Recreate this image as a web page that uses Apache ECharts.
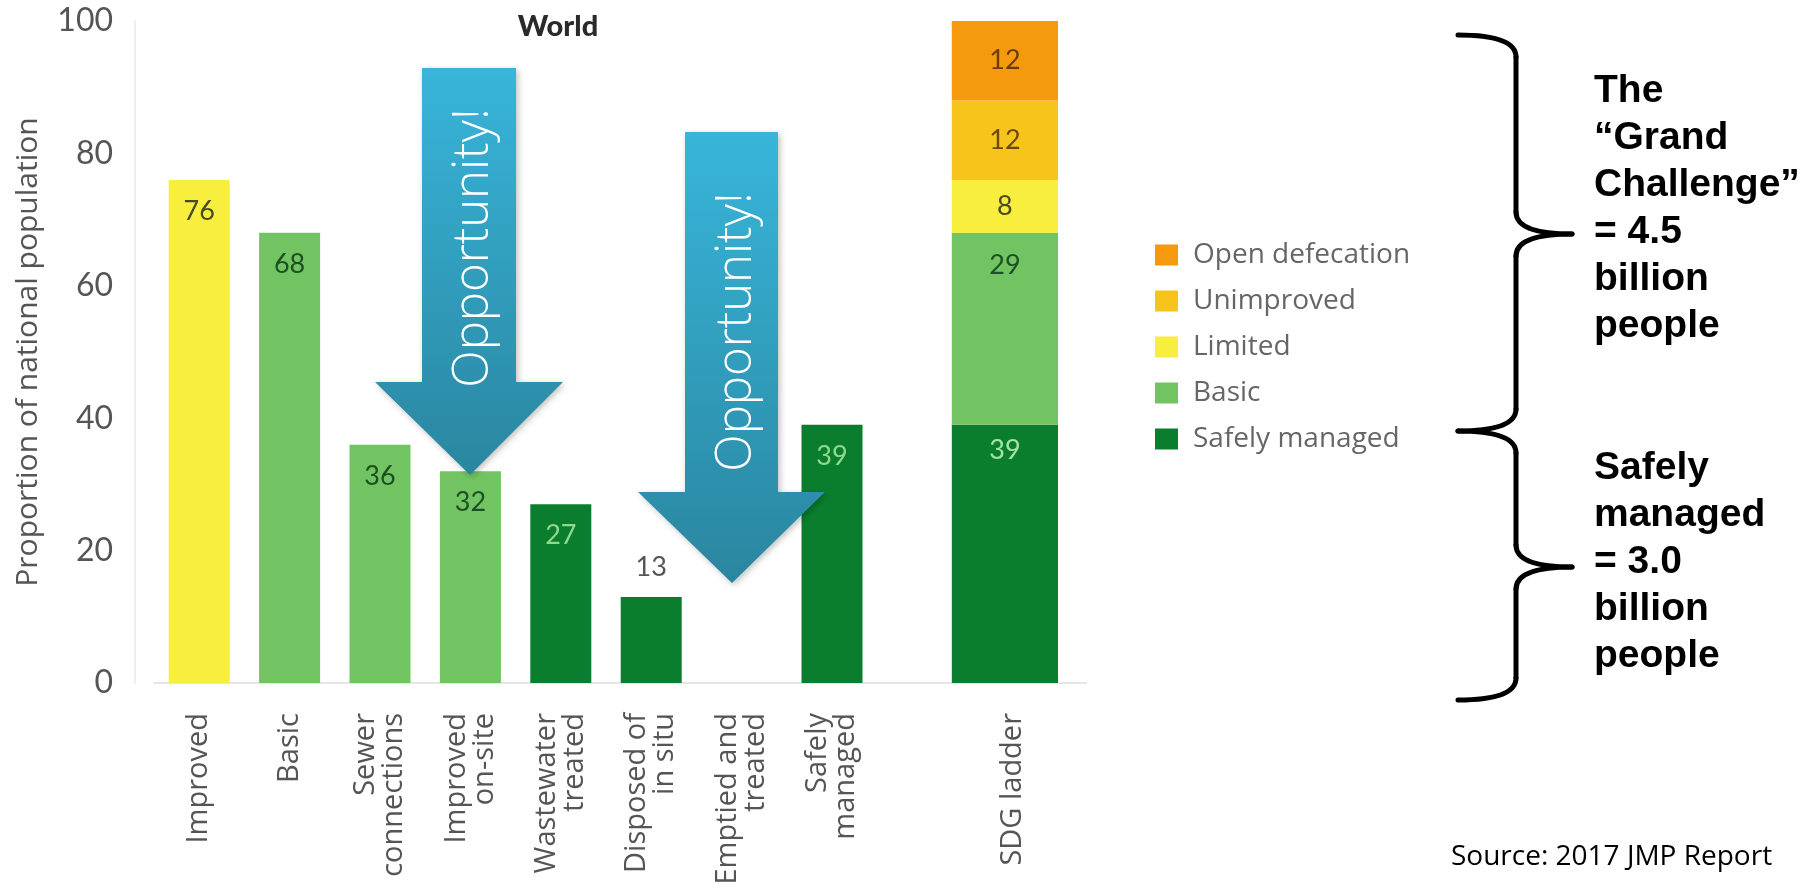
<!DOCTYPE html>
<html>
<head>
<meta charset="utf-8">
<script src="https://cdn.jsdelivr.net/npm/echarts@6/dist/echarts.min.js"></script>
<style>
html,body{margin:0;padding:0;background:#fff;}
#chart{width:1803px;height:892px;}
</style>
</head>
<body>
<div id="chart"></div>
<script>
// ---- data ----
const categories = ['Improved','Basic','Sewer\nconnections','Improved\non-site','Wastewater\ntreated','Disposed of\nin situ','Emptied and\ntreated','Safely\nmanaged','','SDG ladder'];
const serviceValues = [76, 68, 36, 32, 27, 13, null, 39, null, null];
const ladderNames = ['Safely managed','Basic','Limited','Unimproved','Open defecation'];
const ladderValues = [39, 29, 8, 12, 12];
const legendOrder = ['Open defecation','Unimproved','Limited','Basic','Safely managed'];
const yMin = 0, yMax = 100, yStep = 20;

// ---- styles ----
const C = {
  'Open defecation': '#F59A0C',
  'Unimproved': '#F7C41C',
  'Limited': '#F8EE3E',
  'Basic': '#72C462',
  'Safely managed': '#0A7E2E'
};
const barLevel = ['Limited','Basic','Basic','Basic','Safely managed','Safely managed',null,'Safely managed',null,null];
const labelColor = {
  'Open defecation': '#6a3c08',
  'Unimproved': '#6a4a0a',
  'Limited': '#4d4a22',
  'Basic': '#1d4f24',
  'Safely managed': '#8fd98c'
};

const chart = echarts.init(document.getElementById('chart'));

const mainData = serviceValues.map((v, i) => {
  if (v == null) return '-';
  const lvl = barLevel[i];
  const item = { value: v, itemStyle: { color: C[lvl] }, label: { color: labelColor[lvl] } };
  if (i === 5) item.label = { position: 'top', distance: 16, color: '#555' };
  return item;
});

const ladderLabelPos = {
  'Safely managed': ['insideTop', 12],
  'Basic': ['insideTop', 19],
  'Limited': ['inside', 0],
  'Unimproved': ['inside', 0],
  'Open defecation': ['inside', 0]
};

const ladderSeries = ladderNames.map((name, k) => ({
  name: name,
  type: 'bar',
  xAxisIndex: 1,
  stack: 'ladder',
  barWidth: 122,
  itemStyle: { color: C[name] },
  label: {
    show: true,
    position: ladderLabelPos[name][0],
    distance: ladderLabelPos[name][1],
    fontFamily: 'Lato', fontSize: 27,
    color: name === 'Safely managed' ? '#a6e3a2' : labelColor[name]
  },
  data: categories.map((c, i) => i === categories.length - 1 ? ladderValues[k] : '-')
}));

const arrowGrad = () => new echarts.graphic.LinearGradient(0, 0, 0, 1, [
  { offset: 0, color: '#38B5DA' },
  { offset: 1, color: '#2A86A0' }
]);

function arrow(sl, sr, top, headY, hl, hr, tipX, tipY) {
  return {
    type: 'polygon',
    shape: { points: [[sl, top], [sr, top], [sr, headY], [hr, headY], [tipX, tipY], [hl, headY], [sl, headY]] },
    style: { fill: arrowGrad(), shadowBlur: 6, shadowColor: 'rgba(0,0,0,0.25)', shadowOffsetX: 2, shadowOffsetY: 2 },
    z: 100
  };
}
function oppText(x, y) {
  return {
    type: 'text', x: x, y: y, rotation: Math.PI / 2, z: 101,
    style: { text: 'Opportunity!', fill: '#fff', font: '300 49px "Open Sans"', align: 'center', verticalAlign: 'middle' }
  };
}
function brace(xe, xs, xt, y1, ym, y2, r) {
  const st = { stroke: '#000', lineWidth: 5, fill: null, lineCap: 'round' };
  return [
    { type: 'bezierCurve', shape: { x1: xe, y1: y1, x2: xs, y2: y1 + r, cpx1: xs, cpy1: y1 }, style: st },
    { type: 'line', shape: { x1: xs, y1: y1 + r, x2: xs, y2: ym - r }, style: st },
    { type: 'bezierCurve', shape: { x1: xs, y1: ym - r, x2: xt, y2: ym, cpx1: xs, cpy1: ym }, style: st },
    { type: 'bezierCurve', shape: { x1: xt, y1: ym, x2: xs, y2: ym + r, cpx1: xs, cpy1: ym }, style: st },
    { type: 'line', shape: { x1: xs, y1: ym + r, x2: xs, y2: y2 - r }, style: st },
    { type: 'bezierCurve', shape: { x1: xs, y1: y2 - r, x2: xe, y2: y2, cpx1: xs, cpy1: y2 }, style: st }
  ];
}

const option = {
  backgroundColor: '#fff',
  animation: false,
  title: {
    text: 'World', left: 553, top: 7, textAlign: 'center',
    textStyle: { fontFamily: 'Lato', fontWeight: 900, fontSize: 29, color: '#2a2a2a' }
  },
  legend: {
    data: legendOrder,
    orient: 'vertical',
    left: 1150, top: 236,
    icon: 'rect', itemWidth: 23, itemHeight: 21, itemGap: 18,
    textStyle: { fontFamily: 'Open Sans', fontSize: 28, lineHeight: 28, color: '#666', padding: [0, 0, 0, 10] }
  },
  grid: { left: 154, right: 745, top: 21, bottom: 209 },
  xAxis: [
    {
      type: 'category', data: categories,
      axisLine: { lineStyle: { color: '#e6e6e6', width: 2 } },
      axisTick: { show: false },
      axisLabel: { interval: 0, rotate: 90, margin: 30, fontFamily: 'Open Sans', fontSize: 29, lineHeight: 28, color: '#555' }
    },
    { type: 'category', data: categories, show: false }
  ],
  yAxis: {
    type: 'value', min: yMin, max: yMax, interval: yStep, offset: 19,
    name: 'Proportion of national population', nameLocation: 'middle', nameGap: 92,
    nameTextStyle: { fontFamily: 'Open Sans', fontSize: 30, color: '#555' },
    axisLine: { show: true, lineStyle: { color: '#eeeeee', width: 2 } },
    axisTick: { show: false },
    splitLine: { show: false },
    axisLabel: { margin: 22, fontFamily: 'Lato', fontSize: 32, color: '#555' }
  },
  series: [
    {
      name: 'Services', type: 'bar', xAxisIndex: 0, barWidth: 61,
      label: { show: true, position: 'insideTop', distance: 18, fontFamily: 'Lato', fontSize: 27 },
      data: mainData
    }
  ].concat(ladderSeries),
  graphic: [
    arrow(422, 516, 68, 382, 375, 563, 470, 475),
    oppText(474, 248),
    arrow(685, 778, 132, 492, 638, 825, 732, 583),
    oppText(737, 332),
    { type: 'line', shape: { x1: 1058, y1: 683, x2: 1087, y2: 683 }, style: { stroke: '#e6e6e6', lineWidth: 2 } }
  ].concat(brace(1458, 1516, 1572, 35, 234, 431, 22))
   .concat(brace(1458, 1516, 1572, 431, 567, 700, 22))
   .concat([
    { type: 'text', x: 1594, y: 68, style: { text: 'The\n\u201cGrand\nChallenge\u201d\n= 4.5\nbillion\npeople', font: 'bold 39px "Liberation Sans"', lineHeight: 47, fill: '#000' } },
    { type: 'text', x: 1594, y: 445, style: { text: 'Safely\nmanaged\n= 3.0\nbillion\npeople', font: 'bold 39px "Liberation Sans"', lineHeight: 47, fill: '#000' } },
    { type: 'text', x: 1451, y: 857, style: { text: 'Source: 2017 JMP Report', font: '28px "Open Sans"', fill: '#000', verticalAlign: 'middle' } }
  ])
};
chart.setOption(option);
</script>
</body>
</html>
